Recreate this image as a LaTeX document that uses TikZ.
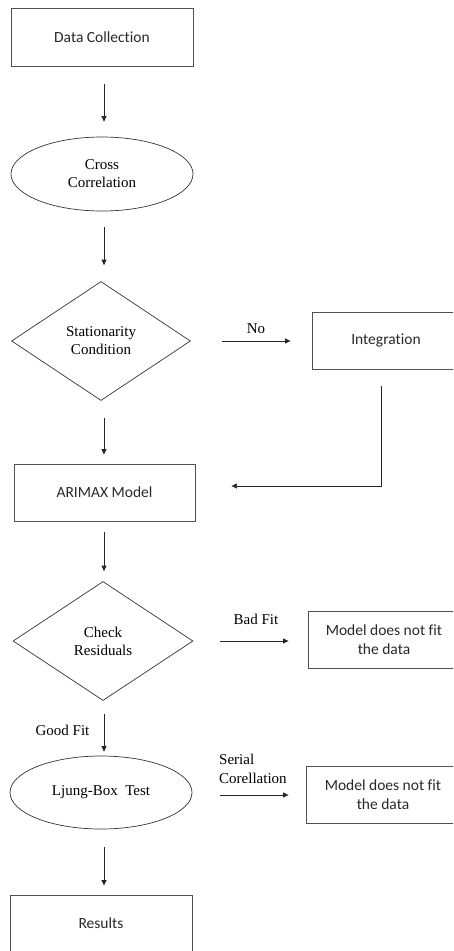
\documentclass[tikz,border=0pt]{standalone}
\usepackage{fontspec}
\setmainfont{Liberation Serif}
\newfontfamily\boxfont[Ligatures={NoCommon,NoRare}]{Carlito}
\usetikzlibrary{shapes.geometric,arrows.meta}
\definecolor{edge}{RGB}{80,80,80}
\definecolor{boxtext}{RGB}{40,40,40}
\begin{document}
\begin{tikzpicture}[x=1pt,y=-1pt,
  proc/.style={draw=edge, line width=0.9pt, inner sep=0pt, align=center,
    text=boxtext, font=\boxfont\fontsize{15.5}{19}\selectfont},
  oval/.style={ellipse, draw=black!80, line width=0.7pt, inner sep=0pt, align=center,
    font=\fontsize{15}{18}\selectfont},
  decide/.style={diamond, aspect=1.5, draw=black!80, line width=0.7pt, inner sep=0pt,
    align=center, font=\fontsize{15}{18}\selectfont},
  lbl/.style={font=\fontsize{15}{19}\selectfont, inner sep=0pt},
  arr/.style={-{Triangle[length=5.5pt,width=5pt]}, line width=0.7pt, black!85}
]
\useasboundingbox (0,0) rectangle (453,951);
\clip (0,0) rectangle (453,951);

\node[proc, minimum width=182pt, minimum height=58pt] (dc) at (102,37) {Data Collection};
\node[oval, minimum width=182pt, minimum height=74pt] (cross) at (102,174) {Cross\\Correlation};
\node[decide, minimum width=179pt, minimum height=119pt] (stat) at (101,341) {Stationarity\\Condition};
\node[proc, minimum width=148pt, minimum height=57pt] (integ) at (386,340.5) {Integration};
\node[proc, minimum width=181pt, minimum height=57pt] (arimax) at (104.5,492.5) {ARIMAX Model};
\node[decide, minimum width=180pt, minimum height=119pt] (check) at (103,641) {Check\\Residuals};
\node[proc, minimum width=152pt, minimum height=57pt] (bad) at (384,639.5) {Model does not fit\\the data};
\node[oval, minimum width=182pt, minimum height=73pt] (ljung) at (101,792.5) {Ljung-Box\ \ Test};
\node[proc, minimum width=154pt, minimum height=57pt] (serial) at (383,794.5) {Model does not fit\\the data};
\node[proc, minimum width=182pt, minimum height=57pt] (res) at (101,923.5) {Results};

% vertical flow
\draw[arr, shorten <=18pt, shorten >=15pt] ([xshift=2pt]dc.south) -- ([xshift=2pt]dc.south |- cross.north);
\draw[arr, shorten <=16pt, shorten >=16pt] ([xshift=2pt]cross.south) -- ([xshift=2pt]cross.south |- stat.north);
\draw[arr, shorten <=17pt, shorten >=9pt] ([xshift=3pt]stat.south) -- ([xshift=3pt]stat.south |- arimax.north);
\draw[arr, shorten <=11pt, shorten >=10pt] ([xshift=-0.5pt]arimax.south) -- ([xshift=-0.5pt]arimax.south |- check.north);
\draw[arr, shorten <=13pt, shorten >=4pt] ([xshift=1pt]check.south) -- ([xshift=1pt]check.south |- ljung.north);
\draw[arr, shorten <=18pt, shorten >=9pt] ([xshift=3pt]ljung.south) -- ([xshift=3pt]ljung.south |- res.north);

% side branches
\draw[arr, shorten <=31pt, shorten >=21pt] (stat.east) -- (stat.east -| integ.west);
\draw[arr, shorten <=27pt, shorten >=19pt] (check.east) -- (check.east -| bad.west);
\draw[arr, shorten <=28pt, shorten >=17pt] ([yshift=-2.5pt]ljung.east) -- ([yshift=-2.5pt]ljung.east -| serial.west);
\draw[arr] ([xshift=-5pt,yshift=-17pt]integ.south) |- ([xshift=36pt,yshift=6.5pt]arimax.east);

% labels
\node[lbl] (lno) at (256,329) {No};
\node[lbl] (lbad) at (256,619) {Bad Fit};
\node[lbl] (lgood) at (62.5,730) {Good Fit};
\node[lbl, align=left, anchor=west] (lser) at (219,768.5) {Serial\\Corellation};
\end{tikzpicture}
\end{document}
